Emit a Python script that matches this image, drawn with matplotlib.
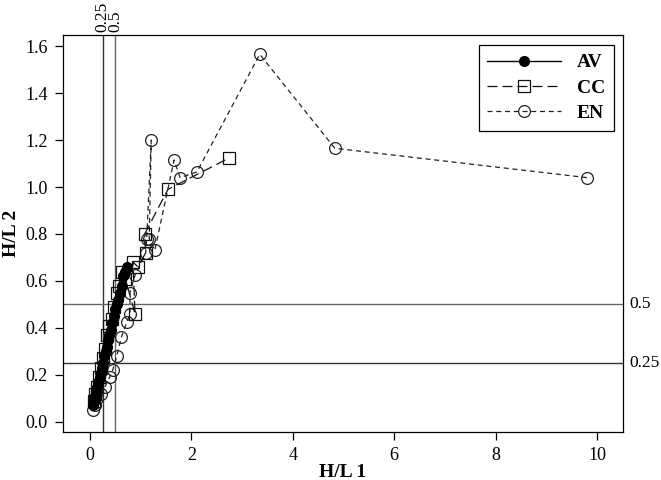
import matplotlib
matplotlib.use('Agg')
import matplotlib.pyplot as plt

plt.rcParams['font.family'] = 'Liberation Serif'

# AV series (filled circles, solid line)
av_x = [0.07, 0.09, 0.11, 0.13, 0.15, 0.17, 0.19, 0.21, 0.24, 0.26, 0.28, 0.31, 0.33,
        0.36, 0.38, 0.41, 0.44, 0.47, 0.50, 0.53, 0.56, 0.59, 0.63, 0.66, 0.70, 0.73]
av_y = [0.07, 0.09, 0.11, 0.13, 0.15, 0.17, 0.19, 0.21, 0.23, 0.25, 0.28, 0.30, 0.32,
        0.35, 0.37, 0.39, 0.42, 0.45, 0.48, 0.50, 0.52, 0.55, 0.58, 0.62, 0.64, 0.66]

# CC series (open squares, long dashes)
cc_x = [0.08, 0.11, 0.14, 0.18, 0.21, 0.25, 0.29, 0.33, 0.38, 0.43, 0.48, 0.53, 0.58,
        0.63, 0.70, 0.89, 0.85, 0.95, 1.10, 1.08, 1.54, 2.74]
cc_y = [0.09, 0.12, 0.15, 0.19, 0.23, 0.27, 0.31, 0.37, 0.41, 0.44, 0.49, 0.55, 0.58,
        0.64, 0.61, 0.46, 0.68, 0.66, 0.72, 0.80, 0.99, 1.123]

# EN series (open circles, short dashes)
en_x = [0.06, 0.10, 0.15, 0.22, 0.30, 0.39, 0.45, 0.53, 0.62, 0.73, 0.79, 0.79, 0.89,
        1.10, 1.12, 1.21, 1.17, 1.28, 1.66, 1.78, 2.11, 3.35, 4.83, 9.80]
en_y = [0.05, 0.07, 0.10, 0.12, 0.15, 0.19, 0.22, 0.28, 0.36, 0.425, 0.46, 0.55, 0.625,
        0.72, 0.78, 1.20, 0.78, 0.73, 1.115, 1.04, 1.064, 1.565, 1.165, 1.04]

ref_vals = [0.25, 0.5]
ref_labels = ['0.25', '0.5']

fig = plt.figure(figsize=(6.61, 4.80), dpi=100)
ax = fig.add_axes([0.0953, 0.10, 0.847, 0.827])

for v, c in zip(ref_vals, ['#333333', '#666666']):
    ax.axvline(v, color=c, lw=1.0, zorder=1)
    ax.axhline(v, color=c, lw=1.0, zorder=1)

ax.plot(en_x, en_y, color='#222222', lw=0.9, dashes=(4, 3), marker='o', ms=8.5,
        mfc='none', mec='#222222', mew=0.9, label='EN', zorder=2)
ax.plot(cc_x, cc_y, color='#111111', lw=0.9, dashes=(8, 4), marker='s', ms=8,
        mfc='none', mec='#111111', mew=0.9, label='CC', zorder=3)
ax.plot(av_x, av_y, color='black', lw=1.0, marker='o', ms=7,
        mfc='black', mec='black', label='AV', zorder=4)

ax.set_xlim(-0.53, 10.51)
ax.set_ylim(-0.043, 1.647)
ax.set_xticks([0, 2, 4, 6, 8, 10])
ax.set_yticks([0.0, 0.2, 0.4, 0.6, 0.8, 1.0, 1.2, 1.4, 1.6])
ax.set_yticklabels(['0.0', '0.2', '0.4', '0.6', '0.8', '1.0', '1.2', '1.4', '1.6'])
ax.tick_params(direction='out', length=6, width=0.9, labelsize=13, pad=5)
for s in ax.spines.values():
    s.set_linewidth(0.9)

ax.set_xlabel('H/L 1', fontsize=14, fontweight='bold', labelpad=0)
ax.set_ylabel('H/L 2', fontsize=14, fontweight='bold', labelpad=4)

# labels of the reference lines outside the frame
for v, t in zip(ref_vals, ref_labels):
    ax.annotate(t, xy=(1.0, v), xycoords=('axes fraction', 'data'),
                xytext=(5, 0), textcoords='offset points', va='center', ha='left',
                fontsize=12.5)
    ax.annotate(t, xy=(v, 1.0), xycoords=('data', 'axes fraction'),
                xytext=(0, 2), textcoords='offset points', va='bottom', ha='center',
                rotation=90, fontsize=12.5)

h, l = ax.get_legend_handles_labels()
order = [2, 1, 0]
leg = ax.legend([h[i] for i in order], [l[i] for i in order], loc='upper right',
                prop={'weight': 'bold', 'size': 14}, handlelength=3.8,
                fancybox=False, framealpha=1, edgecolor='black', borderaxespad=0,
                borderpad=0.45, labelspacing=0.4, bbox_to_anchor=(0.984, 0.975))
leg.get_frame().set_linewidth(0.9)

fig.savefig('out.png', dpi=100)
